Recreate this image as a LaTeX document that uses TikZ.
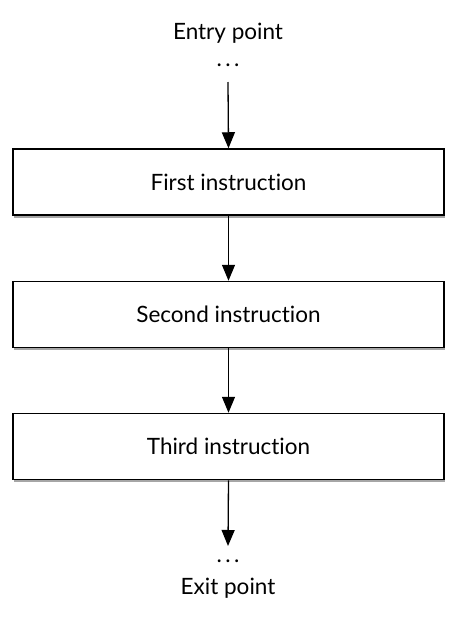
\documentclass[tikz,border=0pt]{standalone}
\usepackage{fontspec}
\setmainfont{Lato}[Ligatures={NoCommon}]
\usetikzlibrary{arrows.meta,shadows}
\newcommand{\mydots}{.\hspace{3.5pt}.\hspace{3.5pt}.}
\begin{document}
\begin{tikzpicture}[x=1pt,y=-1pt,
  instr/.style={draw=black, line width=1.5pt, fill=white, minimum width=431pt, minimum height=66pt, inner sep=0pt,
    font=\fontsize{22.5}{26}\selectfont, drop shadow={shadow xshift=1pt, shadow yshift=-2.5pt, opacity=0.35, fill=black}},
  lbl/.style={font=\fontsize{22.5}{26}\selectfont, inner sep=0pt},
  flow/.style={line width=1.3pt, -{Triangle[width=13pt,length=16pt]}}]
\useasboundingbox (0,0) rectangle (456,624);
\node[lbl] (entry) at (228,33) {Entry point};
\node[lbl, anchor=base] (edots) at (228,66) {\mydots};
\coordinate (estart) at (228,82);
\node[instr] (first) at (228.5,182) {First instruction};
\node[instr] (second) at (228.5,314.5) {Second instruction};
\node[instr] (third) at (228.5,446.5) {Third instruction};
\coordinate (xend) at (228,546);
\node[lbl, anchor=base] (xdots) at (228,562) {\mydots};
\node[lbl] (exit) at (228,588) {Exit point};
\draw[flow] (estart) -- (first.north);
\draw[flow] (first.south) -- (second.north);
\draw[flow] (second.south) -- (third.north);
\draw[flow] (third.south) -- (xend);
\end{tikzpicture}
\end{document}
